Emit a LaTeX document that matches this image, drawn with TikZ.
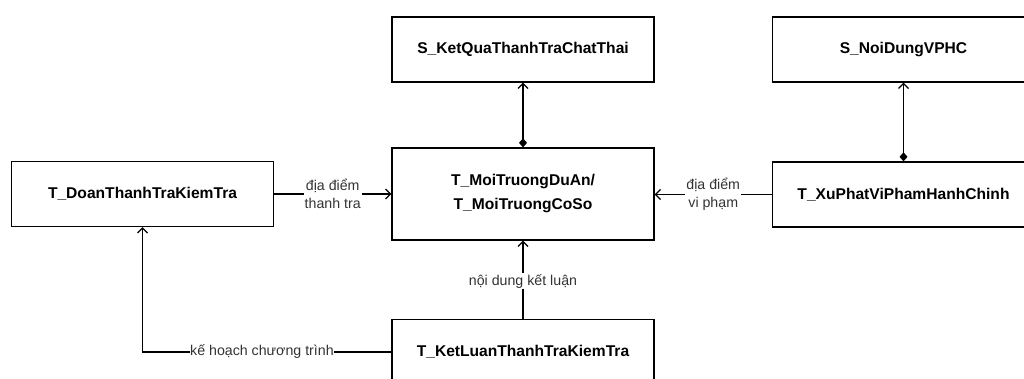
\documentclass[tikz,border=0pt]{standalone}
\usepackage{fontspec}
\setmainfont{Liberation Sans}
\usetikzlibrary{arrows.meta}
\begin{document}
\begin{tikzpicture}[x=1pt,y=-1pt,
  ent/.style={draw,line width=1.3pt,minimum width=262pt,minimum height=65pt,inner sep=0pt,font=\bfseries\fontsize{15.6}{24}\selectfont,align=center},
  conn/.style={line width=1.2pt,-{Straight Barb[length=5pt,width=10pt]}},
  comp/.style={line width=1.2pt,{Diamond[length=9pt,width=8pt]}-{Straight Barb[length=5pt,width=10pt]}},
  lbl/.style={fill=white,inner sep=1pt,font=\fontsize{14.2}{18}\selectfont,align=center,text=black!80}]
\useasboundingbox (0,0) rectangle (1024,379);
\clip (0,0) rectangle (1024,379);
\node[ent] (kq) at (523,49.5) {S\_KetQuaThanhTraChatThai};
\node[ent] (nd) at (903.5,49.5) {S\_NoiDungVPHC};
\node[ent,minimum height=92pt] (mt) at (523,194) {T\_MoiTruongDuAn/\\T\_MoiTruongCoSo};
\node[ent] (dt) at (142.5,194) {T\_DoanThanhTraKiemTra};
\node[ent] (xp) at (903.5,194.5) {T\_XuPhatViPhamHanhChinh};
\node[ent] (kl) at (523,352) {T\_KetLuanThanhTraKiemTra};
\draw[comp] (mt.north) -- (kq.south);
\draw[comp] (xp.north) -- (nd.south);
\draw[conn] (dt.east) -- node[lbl] (l1) {địa điểm\\thanh tra} (dt.east -| mt.west);
\draw[conn] (xp.west) -- node[lbl] (l2) {địa điểm\\vi phạm} (xp.west -| mt.east);
\draw[conn] (kl.north) -- node[lbl,pos=0.48] (l3) {nội dung kết luận} (mt.south);
\coordinate (bend) at (dt.south |- kl.west);
\draw[conn] (kl.west) -- node[lbl,pos=0.52,inner sep=0pt] (l4) {kế hoạch chương trình} (bend) -- (dt.south);
\end{tikzpicture}
\end{document}
